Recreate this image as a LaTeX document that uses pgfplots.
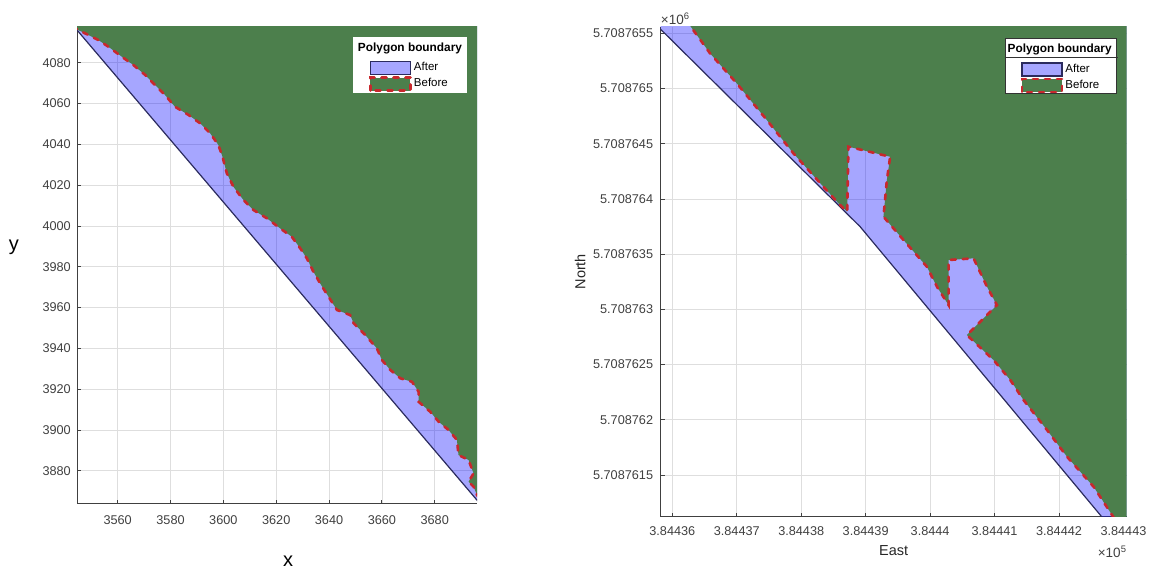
\documentclass[border=0pt]{standalone}
\usepackage{pgfplots}
\pgfplotsset{compat=1.18}
\usepackage{fontspec}
\setmainfont{Liberation Sans}
\definecolor{afterfill}{RGB}{0,0,255}
\definecolor{afteredge}{RGB}{43,43,94}
\definecolor{beforefill}{RGB}{76,127,76}
\definecolor{beforeedge}{RGB}{200,40,45}
\definecolor{tickgray}{RGB}{64,64,64}
\definecolor{gridgray}{RGB}{222,222,222}
\pgfplotsset{
  boxlegend/.style={legend image code/.code={\path[draw=none,fill=none] (-17pt,-7.9pt) rectangle (43.5pt,7.9pt);\draw[##1] (0pt,-6.5pt) rectangle (40pt,6.5pt);}},
  titlelegend/.style={legend image code/.code={\path[draw=none,fill=none] (-17pt,-12pt) rectangle (43.5pt,11.3pt);}},
  matlabaxis/.style={
    scale only axis,
    axis x line*=bottom, axis y line*=left,
    axis line style={-, draw=black!75, line width=1pt},
    tick align=inside,
    major tick length=4pt,
    tick style={draw=black!75, line width=0.8pt},
    grid=major,
    grid style={draw=gridgray, line width=0.7pt},
    tick label style={font=\fontsize{12.7}{14}\selectfont, text=tickgray, inner sep=0pt},
    legend cell align=left,
    legend style={fill=white, inner sep=0pt, outer sep=0pt, row sep=0pt, column sep=0pt,
      font=\fontsize{11.5}{13}\selectfont, nodes={inner sep=0pt, text height=8pt, text depth=2.5pt},
      anchor=north east},
  },
}
\newcommand{\legtitle}{\fontsize{11.85}{13}\selectfont\bfseries Polygon boundary}
\begin{document}
\begin{tikzpicture}
\useasboundingbox (0,0) rectangle (1152pt,570pt);
% ---------------- left panel ----------------
\begin{axis}[matlabaxis, name=L,
  at={(77pt,66pt)}, anchor=south west,
  width=400pt, height=477pt,
  xmin=3544.6, xmax=3696, ymin=3863.7, ymax=4097.5,
  xtick={3560,3580,3600,3620,3640,3660,3680},
  ytick={3880,3900,3920,3940,3960,3980,4000,4020,4040,4060,4080},
  scaled ticks=false,
  /pgf/number format/1000 sep={},
  /pgf/number format/assume math mode=true,
  xticklabel style={yshift=-11pt},
  yticklabel style={xshift=-6pt},
  xlabel={x}, ylabel={y},
  xlabel style={at={(axis description cs:0.5275,-0.1205)}, anchor=center, font=\fontsize{20}{20}\selectfont},
  ylabel style={at={(axis description cs:-0.1575,0.539)}, anchor=center, rotate=-90, font=\fontsize{20}{20}\selectfont},
  legend style={draw=white, at={(rel axis cs:0.9725,0.979)}},
]
\addlegendimage{titlelegend}
\addlegendentry{\hspace*{-56pt}{\legtitle}\hspace*{4pt}}
\addplot[fill=afterfill, fill opacity=0.35, draw=afteredge, line width=1.2pt, boxlegend]
  coordinates {(3540,4103.0) (3700,3859.5) (3700,4105) (3540,4105)} -- cycle;
\addlegendentry{After}
\addplot[fill=beforefill, draw=beforeedge, line width=2.6pt, line cap=round, dash pattern=on 5pt off 7pt, boxlegend]
  coordinates {
(3543,4097.8) (3545.1,4096.0) (3548.9,4093.6) (3552.7,4091.1) (3556.5,4087.8)
(3561.5,4083.0) (3565.9,4078.9) (3570.4,4074.0) (3574.1,4069.1) (3577.9,4064.2)
(3581.7,4058.4) (3586.8,4054.4) (3591.2,4050.3) (3595.0,4045.4) (3598.1,4039.7)
(3599.7,4033.8) (3601.3,4025.8) (3603.8,4019.2) (3607.6,4012.7) (3611.4,4007.8)
(3616.5,4003.7) (3621.5,3998.8) (3625.9,3994.7) (3629.1,3989.0) (3631.6,3984.1)
(3634.1,3977.5) (3636.6,3971.9) (3639.8,3965.3) (3643.0,3958.8) (3648.0,3956.3)
(3649.3,3952.3) (3653.7,3946.5) (3658.1,3940.0) (3660.0,3934.3) (3663.2,3929.4)
(3667.0,3925.3) (3671.4,3923.6) (3673.9,3918.7) (3673.9,3913.8) (3678.3,3908.9)
(3681.5,3904.0) (3685.2,3900.0) (3688.4,3895.1) (3689.0,3887.7) (3692.8,3885.3)
(3694.7,3878.7) (3692.8,3874.6) (3694.7,3872.2) (3696.0,3868.1) (3698,3864.5)
(3702,3864.5) (3702,4105) (3540,4105)} -- cycle;
\addlegendentry{Before}
\end{axis}
% ---------------- right panel ----------------
% data: East - 384430 m, North - 5708760 m (offsets keep full precision)
\begin{axis}[matlabaxis, name=R,
  at={(660.7pt,53.3pt)}, anchor=south west,
  width=466pt, height=490pt,
  xmin=5.82, xmax=13.05, ymin=1.122, ymax=5.56,
  xtick={6,7,8,9,10,11,12,13},
  xticklabels={3.84436,3.84437,3.84438,3.84439,3.8444,3.84441,3.84442,3.84443},
  ytick={1.5,2,2.5,3,3.5,4,4.5,5,5.5},
  yticklabels={5.7087615,5.708762,5.7087625,5.708763,5.7087635,5.708764,5.7087645,5.708765,5.7087655},
  xticklabel style={yshift=-10pt},
  yticklabel style={xshift=-7.4pt},
  xlabel={East}, ylabel={North},
  xlabel style={at={(axis description cs:0.5,-0.069)}, anchor=center, font=\fontsize{14.5}{15}\selectfont, text=black!85},
  ylabel style={at={(axis description cs:-0.173,0.5)}, anchor=center, font=\fontsize{14.5}{15}\selectfont, text=black!85},
  legend style={draw=black!80, line width=0.7pt, at={(rel axis cs:0.977,0.9763)}},
]
\addlegendimage{titlelegend}
\addlegendentry{\hspace*{-57.8pt}\rlap{\hspace*{-2.7pt}\raisebox{-5pt}[0pt][0pt]{\color{black!80}\rule{113pt}{0.7pt}}}{\legtitle}\hspace*{4.3pt}}
\addplot[fill=afterfill, fill opacity=0.35, draw=afteredge, line width=1.2pt, boxlegend]
  coordinates {(5.7,5.605) (8.915,3.748) (12.71,1.088) (13.3,1.0) (13.3,5.7) (5.7,5.7)} -- cycle;
\addlegendentry{After}
\addplot[fill=beforefill, draw=beforeedge, line width=2.6pt, line cap=round, dash pattern=on 5pt off 7pt, boxlegend]
  coordinates {
(6.1,5.70) (6.213,5.620) (6.585,5.319) (7.000,5.047) (7.466,4.715) (7.879,4.413)
(8.345,4.110) (8.578,3.960) (8.713,3.884) (8.733,4.473) (9.380,4.382) (9.329,4.171)
(9.276,3.839) (9.587,3.628) (9.950,3.386) (10.106,3.205) (10.286,3.039) (10.286,3.447)
(10.674,3.462) (10.882,3.205) (11.037,3.039) (10.571,2.767) (10.984,2.541) (11.244,2.360)
(11.450,2.178) (11.814,1.907) (12.124,1.665) (12.537,1.393) (12.823,1.137) (12.890,1.074)
(13.3,1.074) (13.3,5.7)} -- cycle;
\addlegendentry{Before}
\end{axis}
\node[anchor=base west, inner sep=0pt, font=\fontsize{13.5}{14}\selectfont, text=tickgray]
  at ([yshift=1.7pt]R.north west) {×10\textsuperscript{6}};
\node[anchor=base east, inner sep=0pt, font=\fontsize{13.5}{14}\selectfont, text=tickgray]
  at ([yshift=-41.3pt]R.south east) {×10\textsuperscript{5}};
\end{tikzpicture}
\end{document}
